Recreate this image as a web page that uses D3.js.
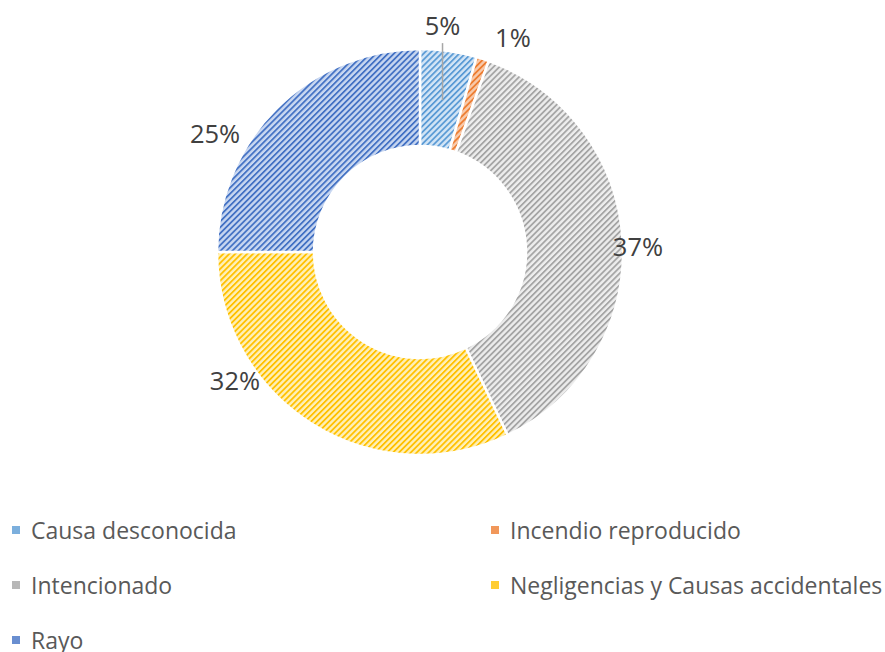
<!DOCTYPE html>
<html>
<head>
<meta charset="utf-8">
<script src="https://cdn.jsdelivr.net/npm/d3@7"></script>
<style>
  body { margin: 0; background: #fff; }
  svg { display: block; font-family: 'Open Sans', sans-serif; }
</style>
</head>
<body>
<div id="chart"></div>
<script>
// chart data
var categories = ['Causa desconocida', 'Incendio reproducido', 'Intencionado', 'Negligencias y Causas accidentales', 'Rayo'];
var values = [4.5, 1.0, 37.4, 32.1, 25.0];
var labels = ['5%', '1%', '37%', '32%', '25%'];

// colours: stripe colour and light background of each pattern
var stripeColors = ['#5b9bd5', '#ed7d31', '#a5a5a5', '#ffc000', '#4472c4'];
var lightColors = ['#d3e5f6', '#f8cbad', '#ededed', '#fff0b8', '#c8d7f1'];

// label placement: angle (fraction along slice) and radius
var labelFrac = [0.35, 2.0, 0.51, 0.70, 0.335];
var labelRad = [228, 234, 218, 225, 237];

var W = 885, H = 652;
var cx = 420, cy = 252, rOut = 203, rIn = 106;

var svg = d3.select('#chart').append('svg')
  .attr('width', W)
  .attr('height', H);

// striped patterns
var defs = svg.append('defs');
categories.forEach(function(c, i){
  var p = defs.append('pattern')
    .attr('id', 'pat' + i)
    .attr('patternUnits', 'userSpaceOnUse')
    .attr('width', 4.2)
    .attr('height', 4.2)
    .attr('patternTransform', 'rotate(45)');
  p.append('rect')
    .attr('width', 4.2).attr('height', 4.2)
    .style('fill', lightColors[i]);
  p.append('rect')
    .attr('width', 1.8).attr('height', 4.2)
    .style('fill', stripeColors[i]);
});

var pie = d3.pie().sort(null).value(function(d){ return d; });
var arcs = pie(values);
var arc = d3.arc().innerRadius(rIn).outerRadius(rOut);

var g = svg.append('g').attr('transform', 'translate(' + cx + ',' + cy + ')');

g.selectAll('path.slice')
  .data(arcs)
  .enter().append('path')
  .attr('class', 'slice')
  .attr('d', arc)
  .style('fill', function(d, i){ return 'url(#pat' + i + ')'; })
  .style('stroke', '#fff')
  .style('stroke-width', 2.5);

function labelPos(d, i) {
  var a = d.startAngle + (d.endAngle - d.startAngle) * labelFrac[i];
  return [Math.sin(a) * labelRad[i], -Math.cos(a) * labelRad[i]];
}

// leader line for the small first slice
var p0 = labelPos(arcs[0], 0);
g.append('line')
  .attr('x1', p0[0]).attr('y1', p0[1] + 18)
  .attr('x2', p0[0]).attr('y2', p0[1] + 75)
  .style('stroke', '#a6a6a6')
  .style('stroke-width', 1.5);

g.selectAll('text.lbl')
  .data(arcs)
  .enter().append('text')
  .attr('class', 'lbl')
  .attr('x', function(d, i){ return labelPos(d, i)[0]; })
  .attr('y', function(d, i){ return labelPos(d, i)[1]; })
  .attr('text-anchor', 'middle')
  .attr('dominant-baseline', 'central')
  .style('font-size', '25.5px')
  .style('fill', '#404040')
  .text(function(d, i){ return labels[i]; });

// legend: two columns
var legend = svg.append('g');
var item = legend.selectAll('g.item')
  .data(categories)
  .enter().append('g')
  .attr('class', 'item')
  .attr('transform', function(d, i){
    var col = i % 2, row = Math.floor(i / 2);
    return 'translate(' + (col === 0 ? 12 : 491) + ',' + (530 + row * 55) + ')';
  });

item.append('rect')
  .attr('x', 0).attr('y', -4)
  .attr('width', 8).attr('height', 8)
  .style('fill', function(d, i){ return stripeColors[i]; })
  .style('opacity', 0.8);

item.append('text')
  .attr('x', 19)
  .attr('y', 0)
  .attr('dominant-baseline', 'central')
  .style('font-size', '23px')
  .style('fill', '#595959')
  .text(function(d){ return d; });
</script>
</body>
</html>
